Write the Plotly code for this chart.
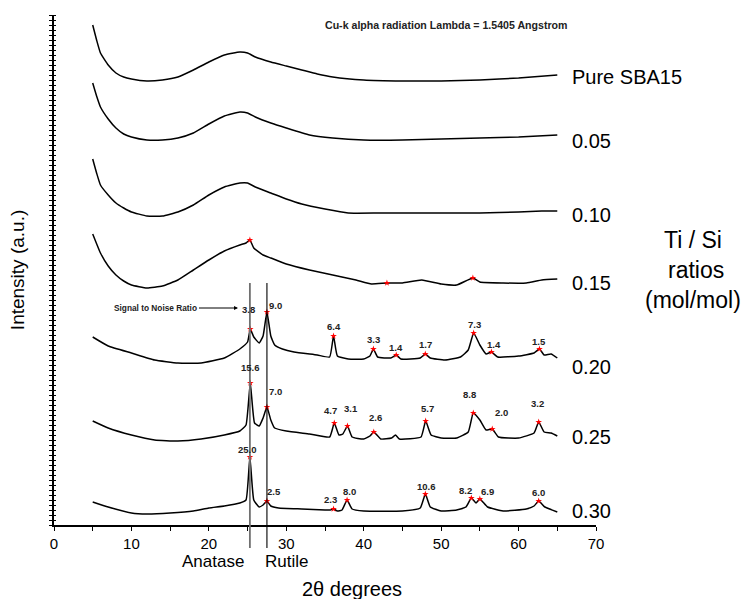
import numpy as np
import plotly.graph_objects as go

# ---- XRD patterns (2-theta in degrees, stacked intensity in a.u.) ----
tt_sba15 = [5, 5.5, 6, 7, 8, 9, 10, 12, 14, 16, 18, 20, 22, 24, 25, 26, 28, 30, 32, 34,
            36, 40, 45, 50, 55, 60, 65]
i_sba15 = [500, 485, 472, 460, 452, 448, 446, 444, 445, 448, 455, 463, 470, 473, 472, 468,
           463, 459, 455, 451, 448, 445, 444, 444, 445, 447, 450]

tt_005 = [5, 5.5, 6, 7, 8, 9, 10, 12, 14, 16, 18, 20, 22, 24, 25, 26, 28, 30, 33, 36,
          40, 45, 50, 55, 60, 65]
i_005 = [442, 429, 418, 406, 397, 391, 388, 385, 385, 387, 392, 401, 409, 413, 412, 408,
         402, 397, 390, 387, 385, 385, 386, 387, 388, 390]

tt_010 = [5, 5.5, 6, 7, 8, 9, 10, 12, 14, 16, 18, 20, 22, 24, 25, 26, 28, 30, 32, 35,
          38, 42, 46, 50, 55, 60, 63, 65]
i_010 = [366, 352, 340, 330, 322, 317, 313, 309, 309, 313, 320, 330, 338, 342, 342, 338,
         332, 326, 321, 316, 312, 312, 312, 312, 312, 313, 314, 314]

tt_015 = [5, 6, 7, 8, 9, 10, 12, 14, 16, 18, 20, 22, 24, 24.8, 25.3, 25.8, 27, 28, 30, 33,
          36, 39, 41, 43, 45, 47.5, 50, 52, 54.1, 55, 58, 61, 63, 65]
i_015 = [291, 272, 259, 250, 244, 240, 237, 239, 245, 255, 265, 274, 280, 282, 285, 277,
         270, 267, 261, 255, 250, 245, 241, 242, 242, 245, 241, 240, 247, 243, 242, 242,
         245, 246]

tt_020 = [5, 7, 10, 13, 16, 19, 22, 24, 25, 25.35, 25.8, 26.5, 27.0, 27.5, 28.0, 28.5,
          29.5, 31, 34, 35.6, 36.1, 36.6, 38, 40, 40.8, 41.25, 41.8, 43.5, 44.2, 44.8,
          47.3, 47.95, 48.6, 50.5, 52.5, 53.5, 54.2, 55, 55.8, 56.5, 57.3, 60, 62, 62.7,
          63.3, 64.2, 65]
i_020 = [188, 179, 172, 165, 162, 162, 167, 176, 183, 196, 188, 182, 189, 213, 189, 180,
         176, 173, 170, 168, 189, 169, 166, 166, 169, 176, 168, 167, 170, 166, 167, 171,
         167, 165, 168, 175, 192, 180, 171, 173, 168, 169, 172, 176, 170, 171, 167]

tt_025 = [5, 7, 10, 13, 16, 19, 22, 24, 24.8, 25.35, 25.9, 26.5, 27.0, 27.5, 28.0, 28.5,
          30, 33, 35.6, 36.2, 36.8, 37.3, 37.9, 38.5, 40, 40.8, 41.3, 42.2, 43.6, 44.1,
          44.6, 47.4, 48.0, 48.7, 50, 52, 53.5, 54.15, 55, 55.8, 56.6, 57.4, 60, 62, 62.6,
          63.3, 64.2, 65]
i_025 = [104, 97, 90, 85, 84, 86, 90, 94, 100, 142, 102, 99, 107, 118, 105, 97, 94, 91,
         88, 102, 90, 91, 99, 88, 86, 89, 93, 86, 87, 90, 86, 88, 104, 90, 87, 87, 93, 112,
         105, 95, 96, 88, 87, 92, 103, 93, 92, 89]

tt_030 = [5, 7, 10, 12, 15, 18, 20, 22, 24, 24.8, 25.3, 25.8, 26.5, 27.0, 27.5, 28.0, 29,
          32, 35, 35.7, 36.1, 36.6, 37.2, 37.85, 38.5, 40, 45, 47.3, 47.96, 48.6, 50, 52,
          53.2, 53.9, 54.5, 55.0, 56, 58, 61, 62.0, 62.6, 63.4, 65]
i_030 = [23, 18, 12, 11, 12, 14, 17, 19, 22, 25, 68, 25, 18, 20, 24, 19, 17, 16, 15, 15,
         16, 14, 15, 25, 16, 14, 14, 17, 31, 18, 14, 15, 18, 27, 22, 26, 18, 14, 16, 19,
         24, 18, 13]

sample_names = ["Pure SBA15", "0.05", "0.10", "0.15", "0.20", "0.25", "0.30"]
patterns = [(tt_sba15, i_sba15), (tt_005, i_005), (tt_010, i_010), (tt_015, i_015),
            (tt_020, i_020), (tt_025, i_025), (tt_030, i_030)]

# Picked reflections (2-theta) and their signal-to-noise ratios
peaks_015 = [25.3, 43.0, 54.1]
peaks_020 = [25.35, 27.5, 36.1, 41.25, 44.2, 47.95, 54.2, 56.5, 62.7]
snr_020 = [3.8, 9.0, 6.4, 3.3, 1.4, 1.7, 7.3, 1.4, 1.5]
peaks_025 = [25.35, 27.5, 36.2, 37.9, 41.3, 48.0, 54.15, 56.6, 62.6]
snr_025 = [15.6, 7.0, 4.7, 3.1, 2.6, 5.7, 8.8, 2.0, 3.2]
peaks_030 = [25.3, 27.5, 36.1, 37.85, 47.96, 53.9, 55.0, 62.6]
snr_030 = [25.0, 2.5, 2.3, 8.0, 10.6, 8.2, 6.9, 6.0]

ANATASE_2THETA = 25.3
RUTILE_2THETA = 27.5

# label placement (pixel offsets of each SNR label from its peak marker)
off_020 = [(-2, 20), (9, 7), (0, 10), (0, 10), (0, 8), (0, 10), (1, 9), (3, 8), (0, 8)]
off_025 = [(0, 16), (9, 16), (-4, 13), (4, 18), (2, 15), (2, 13), (-4, 19), (9, 17), (-1, 19)]
off_030 = [(-2, 8), (7, 10), (-3, 10), (2, 9), (1, 8), (-6, 8), (8, 8), (0, 9)]
name_shift = [-2, -6, -4, -4, -9, -1, 1]

FONT = "Arial, Liberation Sans, Helvetica, sans-serif"

fig = go.Figure()

for tt, inten in patterns:
    fig.add_trace(go.Scatter(
        x=tt, y=inten, mode="lines",
        line=dict(color="black", width=1.5, shape="spline", smoothing=0.4),
        hoverinfo="skip", showlegend=False))

annotations = []
for (tt, inten), peaks, snr, offs in [
        (patterns[3], peaks_015, None, None),
        (patterns[4], peaks_020, snr_020, off_020),
        (patterns[5], peaks_025, snr_025, off_025),
        (patterns[6], peaks_030, snr_030, off_030)]:
    py = np.interp(peaks, tt, inten)
    fig.add_trace(go.Scatter(
        x=peaks, y=py, mode="markers",
        marker=dict(symbol="star", size=5, color="red"),
        hoverinfo="skip", showlegend=False))
    if snr is not None:
        for px_, pyy, s, (dx, dy) in zip(peaks, py, snr, offs):
            annotations.append(dict(
                x=px_, y=pyy, xref="x", yref="y", text=f"<b>{s:.1f}</b>",
                showarrow=False, xshift=dx, yshift=dy,
                font=dict(family=FONT, size=9.5, color="#222"),
                xanchor="center", yanchor="middle"))

# sample labels at the right end of each pattern
for name, (tt, inten), sh in zip(sample_names, patterns, name_shift):
    annotations.append(dict(
        x=66.6, y=inten[-1], xref="x", yref="y", text=name, showarrow=False,
        xanchor="left", yanchor="middle", yshift=sh,
        font=dict(family=FONT, size=20, color="black")))

annotations += [
    dict(x=1.179, y=0.5, xref="paper", yref="paper", text="Ti / Si<br> ratios<br>(mol/mol)",
         showarrow=False, align="center", xanchor="center", yanchor="middle",
         font=dict(family=FONT, size=23, color="black")),
    dict(x=0.723, y=0.980, xref="paper", yref="paper",
         text="<b>Cu-k alpha radiation Lambda = 1.5405 Angstrom</b>", showarrow=False,
         xanchor="center", yanchor="middle", font=dict(family=FONT, size=10.6, color="#222")),
    dict(x=23.76, y=217, xref="x", yref="y", text="<b>Signal to Noise Ratio</b>",
         showarrow=True, ax=-82, ay=0, axref="pixel", ayref="pixel",
         arrowhead=2, arrowsize=0.8, arrowwidth=1, arrowcolor="black", standoff=0,
         font=dict(family=FONT, size=8.3, color="#222")),
    dict(x=-0.068, y=0.5, xref="paper", yref="paper", text="Intensity (a.u.)",
         textangle=-90, showarrow=False, xanchor="center", yanchor="middle",
         font=dict(family=FONT, size=19, color="black")),
    dict(x=38.5, y=-0.125, xref="x", yref="paper", text="2θ degrees", showarrow=False,
         xanchor="center", yanchor="middle", font=dict(family=FONT, size=20, color="black")),
    dict(x=ANATASE_2THETA, y=-0.072, xref="x", yref="paper", text="Anatase",
         showarrow=False, xanchor="right", yanchor="middle", xshift=-4,
         font=dict(family=FONT, size=17, color="black")),
    dict(x=RUTILE_2THETA, y=-0.072, xref="x", yref="paper", text="Rutile",
         showarrow=False, xanchor="left", yanchor="middle", xshift=-4,
         font=dict(family=FONT, size=17, color="black")),
]

shapes = [
    dict(type="line", xref="x", yref="paper", x0=ANATASE_2THETA, x1=ANATASE_2THETA,
         y0=-0.045, y1=0.4745, line=dict(color="#707070", width=1.8)),
    dict(type="line", xref="x", yref="paper", x0=RUTILE_2THETA, x1=RUTILE_2THETA,
         y0=-0.045, y1=0.4745, line=dict(color="black", width=1.1)),
]

fig.update_layout(
    width=745, height=599,
    margin=dict(l=54, r=149, t=15, b=74),
    paper_bgcolor="white", plot_bgcolor="white",
    font=dict(family=FONT, color="black"),
    annotations=annotations, shapes=shapes,
    xaxis=dict(range=[0, 70], tickvals=list(range(0, 71, 10)), showgrid=False,
               zeroline=False, showline=True, linecolor="black", linewidth=1.5,
               ticks="outside", ticklen=4, tickwidth=1, tickcolor="black",
               tickfont=dict(family=FONT, size=15, color="black"),
               minor=dict(dtick=5, ticks="outside", ticklen=4, tickcolor="black")),
    yaxis=dict(range=[0, 510], showgrid=False, zeroline=False, showline=True,
               linecolor="black", linewidth=1.5, showticklabels=False,
               ticks="outside", dtick=5, ticklen=3, tickwidth=1, tickcolor="black",
               minor=dict(dtick=5, ticks="inside", ticklen=2, tickcolor="black")),
)

fig.write_html("out.html")
